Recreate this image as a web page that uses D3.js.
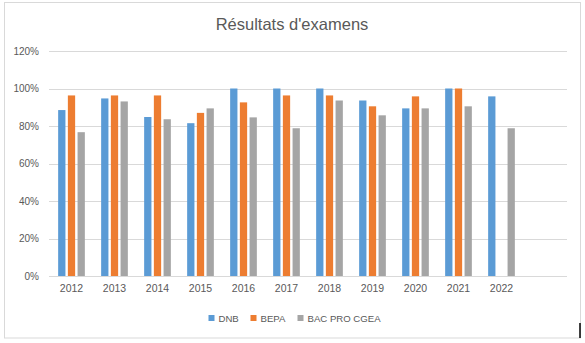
<!DOCTYPE html>
<html>
<head>
<meta charset="utf-8">
<script src="https://cdn.jsdelivr.net/npm/d3@7"></script>
<style>
  html, body { margin: 0; padding: 0; background: #fff; }
  svg { display: block; font-family: "Liberation Sans", Arial, sans-serif; }
</style>
</head>
<body>
<svg id="chart" width="585" height="343"></svg>
<script>
// Exam pass rates per year (percent)
const years = ["2012", "2013", "2014", "2015", "2016", "2017", "2018", "2019", "2020", "2021", "2022", ""];
const seriesNames = ["DNB", "BEPA", "BAC PRO CGEA"];
const dnb = [88.5, 94.7, 84.8, 81.5, 100, 100, 100, 93.6, 89.4, 100, 95.8, null];
const bepa = [96.3, 96.3, 96.3, 87, 92.6, 96.3, 96.3, 90.5, 95.8, 100, null, null];
const bacPro = [76.7, 93.1, 83.6, 89.4, 84.6, 78.8, 93.6, 85.7, 89.4, 90.5, 78.8, null];
const yTicks = [0, 20, 40, 60, 80, 100, 120];
const colors = ["#5b9bd5", "#ed7d31", "#a5a5a5"];

const seriesValues = [dnb, bepa, bacPro];
const svg = d3.select("#chart");

// chart frame
svg.append("rect")
  .attr("x", 4.5).attr("y", 2.5)
  .attr("width", 576).attr("height", 335.5)
  .attr("fill", "#fff").attr("stroke", "#d9d9d9");

// title
svg.append("text")
  .attr("x", 292).attr("y", 30)
  .attr("text-anchor", "middle")
  .attr("font-size", 16.5)
  .attr("fill", "#595959")
  .text("Résultats d'examens");

const x = d3.scaleBand().domain(years).range([50, 566]);
const x1 = d3.scaleBand().domain(seriesNames)
  .range([-13.35, 13.35]).paddingInner(0.25).paddingOuter(0);
const y = d3.scaleLinear().domain([0, 120]).range([276, 51]);

// horizontal gridlines
svg.append("g")
  .selectAll("line")
  .data(yTicks)
  .join("line")
  .attr("x1", 49).attr("x2", 567)
  .attr("y1", d => Math.round(y(d)) + 0.5)
  .attr("y2", d => Math.round(y(d)) + 0.5)
  .attr("stroke", "#d9d9d9");

// y axis labels
const yAxis = d3.axisLeft(y).tickValues(yTicks).tickSize(0).tickPadding(0)
  .tickFormat(d => d + "%");
svg.append("g")
  .attr("transform", "translate(39,0)")
  .call(yAxis)
  .call(g => g.select(".domain").remove())
  .call(g => g.selectAll("text")
    .attr("font-size", 10)
    .attr("fill", "#595959")
    .attr("font-family", "Liberation Sans, Arial, sans-serif"));

// bars
seriesNames.forEach((name, si) => {
  const data = years.map((yr, i) => ({ yr, v: seriesValues[si][i] }))
    .filter(d => d.v != null);
  svg.append("g")
    .selectAll("rect")
    .data(data)
    .join("rect")
    .attr("x", d => x(d.yr) + x.bandwidth() / 2 + x1(name))
    .attr("width", x1.bandwidth())
    .attr("y", d => y(d.v))
    .attr("height", d => y(0) - y(d.v))
    .attr("fill", colors[si]);
});

// x axis labels
const xAxis = d3.axisBottom(x).tickSize(0).tickPadding(0);
svg.append("g")
  .attr("transform", "translate(0,285)")
  .call(xAxis)
  .call(g => g.select(".domain").remove())
  .call(g => g.selectAll("text")
    .attr("font-size", 10.5)
    .attr("fill", "#595959")
    .attr("font-family", "Liberation Sans, Arial, sans-serif"));

// legend
const legendX = [208.5, 250.5, 297.5];
const legend = svg.append("g");
seriesNames.forEach((name, i) => {
  legend.append("rect")
    .attr("x", legendX[i]).attr("y", 315)
    .attr("width", 6).attr("height", 6)
    .attr("fill", colors[i]);
  legend.append("text")
    .attr("x", legendX[i] + 10).attr("y", 321.5)
    .attr("font-size", 9.6)
    .attr("fill", "#595959")
    .text(name);
});

// text cursor mark at bottom right
svg.append("line")
  .attr("x1", 580).attr("x2", 580)
  .attr("y1", 323).attr("y2", 338)
  .attr("stroke", "#000").attr("stroke-width", 1.5);
</script>
</body>
</html>
